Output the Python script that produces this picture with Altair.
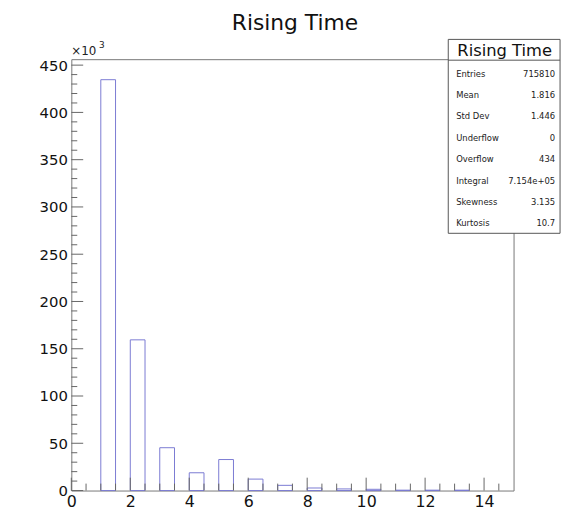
import altair as alt
import pandas as pd

# Histogram data (counts in thousands), bins of width 0.5 starting at bin_lo
bin_lo = [1, 2, 3, 4, 5, 6, 7, 8, 9, 10, 11, 12, 13]
counts_k = [434.6, 159.4, 45.3, 18.8, 32.8, 12.1, 5.5, 2.7, 1.7, 1.3, 0.4, 0.4, 0.4]
bin_width = 0.5

x_major = [0, 2, 4, 6, 8, 10, 12, 14]
x_minor = [i * 0.5 for i in range(0, 30) if (i * 0.5) % 2 != 0]
y_major = [0, 50, 100, 150, 200, 250, 300, 350, 400, 450]
y_minor = [v for v in range(0, 460, 10) if v % 50 != 0]

stat_names = ["Entries", "Mean", "Std Dev", "Underflow", "Overflow", "Integral", "Skewness", "Kurtosis"]
stat_values = ["715810", "1.816", "1.446", "0", "434", "7.154e+05", "3.135", "10.7"]

title_text = "Rising Time"
W, H = 447, 436
FONT = "DejaVu Sans"

hist = pd.DataFrame({"lo": bin_lo, "count": counts_k})
hist["hi"] = hist["lo"] + bin_width
hist["zero"] = 0.0

xs = alt.Scale(domain=[0, 15], nice=False, zero=False)
ys = alt.Scale(domain=[0, 456.3], nice=False, zero=True)

bars = alt.Chart(hist).mark_rect(fillOpacity=0, stroke="#7a7ad2", strokeWidth=1).encode(
    x=alt.X("lo:Q", scale=xs, axis=alt.Axis(values=x_major, ticks=False, tickSize=0, domain=False, grid=False,
                                            labelFont=FONT, labelFontSize=16, labelColor="#111",
                                            labelPadding=3, labelFlush=False, labelOverlap=False, title=None)),
    x2="hi:Q",
    y=alt.Y("count:Q", scale=ys, axis=alt.Axis(values=y_major, ticks=False, tickSize=0, domain=False, grid=False,
                                               labelFont=FONT, labelFontSize=15, labelColor="#111",
                                               labelPadding=4, labelFlush=False, labelOverlap=False, title=None)),
    y2="zero:Q",
)

# inward ticks (ROOT style)
xt = pd.DataFrame({"v": x_major + x_minor, "len": [13] * len(x_major) + [7] * len(x_minor)})
xt["y2"] = H - xt["len"]
xticks = alt.Chart(xt).mark_rule(color="#666", strokeWidth=1).encode(
    x=alt.X("v:Q", scale=xs),
    y=alt.Y("y2:Q", scale=None),
    y2=alt.value(H),
)

yt = pd.DataFrame({"v": y_major + y_minor, "len": [12] * len(y_major) + [6] * len(y_minor)})
yticks = alt.Chart(yt).mark_rule(color="#666", strokeWidth=1).encode(
    y=alt.Y("v:Q", scale=ys),
    x=alt.X("len:Q", scale=None),
    x2=alt.value(0),
)

one = pd.DataFrame({"t": [title_text]})

main_title = alt.Chart(one).mark_text(font=FONT, fontSize=22, align="center", baseline="alphabetic",
                                      color="#111").encode(
    text="t:N", x=alt.value(226), y=alt.value(-29))

exp1 = alt.Chart(pd.DataFrame({"t": ["×10"]})).mark_text(font=FONT, fontSize=12, align="left",
                                                        baseline="alphabetic", color="#222").encode(
    text="t:N", x=alt.value(0), y=alt.value(-4))
exp2 = alt.Chart(pd.DataFrame({"t": ["3"]})).mark_text(font=FONT, fontSize=9, align="left",
                                                      baseline="alphabetic", color="#222").encode(
    text="t:N", x=alt.value(28), y=alt.value(-11))

box = alt.Chart(one).mark_rect(fill="white", stroke="#555", strokeWidth=1).encode(
    x=alt.value(381), x2=alt.value(494), y=alt.value(-20), y2=alt.value(176))
box_sep = alt.Chart(one).mark_rule(color="#555", strokeWidth=1).encode(
    x=alt.value(381), x2=alt.value(494), y=alt.value(1))
box_title = alt.Chart(one).mark_text(font=FONT, fontSize=16.5, align="center", baseline="alphabetic",
                                     color="#111").encode(
    text="t:N", x=alt.value(438), y=alt.value(-3))

stats = pd.DataFrame({"name": stat_names, "value": stat_values})
stats["ypix"] = [14.7 + i * 21.6 for i in range(len(stat_names))]
stat_lab = alt.Chart(stats).mark_text(font=FONT, fontSize=8.5, align="left", baseline="middle",
                                      color="#222").encode(
    text="name:N", x=alt.value(389), y=alt.Y("ypix:Q", scale=None))
stat_val = alt.Chart(stats).mark_text(font=FONT, fontSize=8.5, align="right", baseline="middle",
                                      color="#222").encode(
    text="value:N", x=alt.value(489), y=alt.Y("ypix:Q", scale=None))

chart = alt.layer(
    bars, xticks, yticks, main_title, exp1, exp2, box, box_sep, box_title, stat_lab, stat_val
).properties(
    width=W, height=H,
    autosize="none",
    padding={"left": 64, "top": 49, "right": 52, "bottom": 23},
    background="white",
).configure_view(stroke="#777", strokeWidth=1)

chart.save("out.html", embed_options={"renderer": "svg", "actions": False})
